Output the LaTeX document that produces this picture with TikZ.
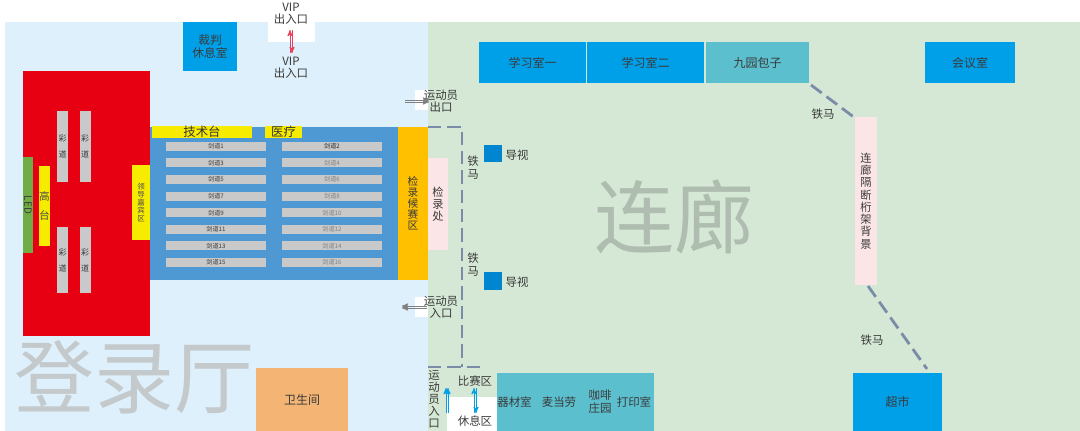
\documentclass[tikz,border=0pt]{standalone}
\usepackage{fontspec}
\setmainfont{Noto Sans CJK SC}
\usetikzlibrary{arrows,calc,positioning}
\definecolor{hallblue}{HTML}{DEF0FB}
\definecolor{corridor}{HTML}{D5E8D5}
\definecolor{roomblue}{HTML}{00A0E9}
\definecolor{roomteal}{HTML}{5BBFCE}
\definecolor{stagered}{HTML}{E60012}
\definecolor{pisteblue}{HTML}{4E98D3}
\definecolor{signyellow}{HTML}{F7EC00}
\definecolor{checkorange}{HTML}{FFC000}
\definecolor{panelpink}{HTML}{FBE5E6}
\definecolor{lanegray}{HTML}{C9C9C9}
\definecolor{barrier}{HTML}{7B8CA8}
\definecolor{inkgray}{HTML}{3A3A3A}
\definecolor{ledgreen}{HTML}{70AD47}
\definecolor{toiletorange}{HTML}{F4B574}
\definecolor{screenblue}{HTML}{0086D1}
\definecolor{hallmark}{HTML}{C4C9CC}
\definecolor{gallerymark}{HTML}{AFBDB0}
\definecolor{vipred}{HTML}{E8405A}
\newcommand{\sz}[2]{\fontsize{#1}{#2}\selectfont}
\tikzset{
	box/.style 2 args={draw=none,inner sep=0pt,minimum width=#1*0.75pt,minimum height=#2*0.75pt,text=inkgray,align=center},
	label/.style={inner sep=0pt,text=inkgray,align=center,font=\sz{8.6}{9}},
	watermark/.style={inner sep=0pt,font=\sz{60}{60}},
	rail/.style={barrier,line width=2.1pt,dash pattern=on 10pt off 4.5pt},
	flow/.style={line width=0.7pt,>=stealth',->},
}
\begin{document}
\begin{tikzpicture}[x=0.75pt,y=-0.75pt]
	\useasboundingbox (0,0) rectangle (1080,431);
	% halls
	\node[box={423}{409},fill=hallblue] (hall) at (216.5,226.5) {};
	\node[box={652}{409},fill=corridor] (gallery) at (754,226.5) {};
	\node[watermark,text=hallmark] (hallname) at (134,377) {登录厅};
	\node[watermark,text=gallerymark] (galleryname) at (674,217) {连廊};
	% stage
	\node[box={127}{265},fill=stagered] (stage) at (86.5,203.5) {};
	\node[box={10}{96},fill=ledgreen,font=\sz{7.5}{8}] (led) at (28,205) {\rotatebox{-90}{LED}};
	\node[box={10}{80},fill=signyellow,font=\sz{8}{14},text=black!70] (podium) at (44.5,206) {高\\台};
	\node[box={11}{71},fill=lanegray,font=\sz{6}{12}] (ribbon1) at (62.5,146.5) {彩\\道};
	\node[box={11}{71},fill=lanegray,font=\sz{6}{12}] (ribbon2) at (85,146.5) {彩\\道};
	\node[box={11}{66},fill=lanegray,font=\sz{6}{12}] (ribbon3) at (62.5,260) {彩\\道};
	\node[box={11}{66},fill=lanegray,font=\sz{6}{12}] (ribbon4) at (85,260) {彩\\道};
	\node[box={18}{75},fill=signyellow,font=\sz{5.6}{6},text=black!70] (guests) at (141,202.5) {领\\导\\嘉\\宾\\区};
	% pistes
	\node[box={248}{153},fill=pisteblue] (field) at (274,203.5) {};
	\node[box={100}{10},fill=signyellow,font=\sz{9.3}{10},text=black!80] (techdesk) at (202,132) {技术台};
	\node[box={37}{10},fill=signyellow,font=\sz{9.3}{10},text=black!80] (medical) at (283.5,132) {医疗};
	\foreach \i in {0,...,7} {
		\pgfmathtruncatemacro{\odd}{2*\i+1}
		\pgfmathtruncatemacro{\even}{2*\i+2}
		\pgfmathtruncatemacro{\shade}{\i==0?85:50}
		\pgfmathsetmacro{\laney}{146.3+16.6*\i}
		\node[box={100}{9},fill=lanegray,font=\sz{4.6}{5}] (piste\odd) at (216,\laney) {剑道\odd};
		\node[box={100}{9},fill=lanegray,font=\sz{4.6}{5},text=black!\shade] (piste\even) at (332,\laney) {剑道\even};
	}
	% check-in
	\node[box={30}{153},fill=checkorange,font=\sz{8}{8.3}] (waiting) at (413,203.5) {检\\录\\候\\赛\\区};
	\node[box={20}{92},fill=panelpink,font=\sz{8.4}{8.8}] (checkin) at (438,204) {检\\录\\处};
	% rooms
	\node[box={54}{49},fill=roomblue,font=\sz{8.8}{9.8}] (referee) at (210,46.5) {裁判\\休息室};
	\node[box={107}{41},fill=roomblue,font=\sz{9}{9}] (study1) at (532.5,62.5) {学习室一};
	\node[box={117}{41},fill=roomblue,font=\sz{9}{9}] (study2) at (645.5,62.5) {学习室二};
	\node[box={103}{41},fill=roomteal,font=\sz{9}{9}] (baozi) at (757.5,62.5) {九园包子};
	\node[box={90}{41},fill=roomblue,font=\sz{9}{9}] (meeting) at (970,62.5) {会议室};
	\node[box={89}{58},fill=roomblue,font=\sz{9}{9}] (market) at (897.5,402) {超市};
	\node[box={92}{63},fill=toiletorange,font=\sz{9}{9}] (toilet) at (302,399.5) {卫生间};
	\node[box={22}{168},fill=panelpink,font=\sz{8.4}{9.2}] (backdrop) at (866,201) {连\\廊\\隔\\断\\桁\\架\\背\\景};
	\node[box={51}{34},fill=white] (rest) at (472.5,414) {};
	\node[box={35}{58},fill=roomteal,font=\sz{8.6}{9}] (gear) at (514.5,402) {器材室};
	\node[box={54}{58},fill=roomteal,font=\sz{8.6}{9}] (mcd) at (559,402) {麦当劳};
	\node[box={28}{58},fill=roomteal,font=\sz{8.6}{9.8}] (cafe) at (600,402) {咖啡\\庄园};
	\node[box={40}{58},fill=roomteal,font=\sz{8.6}{9}] (print) at (634,402) {打印室};
	% doors
	\node[box={47}{42},fill=white] (vipdoor) at (291.5,21) {};
	\node[box={13}{20},fill=white] (outdoor) at (421.5,100) {};
	\node[box={13}{20},fill=white] (indoor) at (421.5,307) {};
	\node[label] (viptop) at (291,14) {VIP\\出入口};
	\node[label] (vipbottom) at (291,68) {VIP\\出入口};
	\node[label] (outname) at (441,101) {运动员\\出口};
	\node[label] (inname) at (441,307) {运动员\\入口};
	\node[label] (sidein) at (434,399) {运\\动\\员\\入\\口};
	\node[label] (playzone) at (475,381) {比赛区};
	\node[label] (restzone) at (475,421) {休息区};
	% guides
	\node[box={18}{17},fill=screenblue] (screen1) at (493,153.5) {};
	\node[box={18}{18},fill=screenblue] (screen2) at (493,281) {};
	\node[label] (screentext1) at (517,155) {导视};
	\node[label] (screentext2) at (517,282) {导视};
	\node[label,font=\sz{8.6}{9.8}] (railtext1) at (473,168) {铁\\马};
	\node[label,font=\sz{8.6}{9.8}] (railtext2) at (473,265) {铁\\马};
	\node[label] (railtext3) at (823,114) {铁马};
	\node[label] (railtext4) at (872,340) {铁马};
	% barriers
	\coordinate (railstart) at (428,127);
	\coordinate (railcorner) at (462,127);
	\coordinate (railend) at (462,367);
	\coordinate (lowstart) at (428,367);
	\coordinate (lowend) at (483,367);
	\coordinate (diagA) at (811,85);
	\coordinate (diagB) at (855,118);
	\coordinate (diagC) at (868,286);
	\coordinate (diagD) at (927,369);
	\draw[rail] (railstart) -- (railcorner) -- (railend);
	\draw[rail] (lowstart) -- (lowend);
	\draw[rail] (diagA) -- (diagB);
	\draw[rail] (diagC) -- (diagD);
	% arrows
	\coordinate (vipA) at (290,30);
	\coordinate (vipB) at (290,53);
	\coordinate (vipC) at (292,30);
	\coordinate (vipD) at (292,53);
	\draw[flow,vipred] (vipB) -- (vipA);
	\draw[flow,vipred] (vipC) -- (vipD);
	\coordinate (outA) at (405,100);
	\coordinate (outB) at (429,100);
	\coordinate (outC) at (405,102);
	\coordinate (outD) at (429,102);
	\draw[flow,black!50] (outA) -- (outB);
	\draw[flow,black!50] (outC) -- (outD);
	\coordinate (inA) at (427,306);
	\coordinate (inB) at (402,306);
	\coordinate (inC) at (427,308);
	\coordinate (inD) at (402,308);
	\draw[flow,black!50] (inA) -- (inB);
	\draw[flow,black!50] (inC) -- (inD);
	\coordinate (upA) at (446,413);
	\coordinate (upB) at (446,388);
	\coordinate (upC) at (448,413);
	\coordinate (upD) at (448,388);
	\draw[flow,roomblue] (upA) -- (upB);
	\draw[flow,roomblue] (upC) -- (upD);
	\coordinate (swapA) at (474,413);
	\coordinate (swapB) at (474,388);
	\coordinate (swapC) at (476,388);
	\coordinate (swapD) at (476,413);
	\draw[flow,roomblue] (swapA) -- (swapB);
	\draw[flow,roomblue] (swapC) -- (swapD);
\end{tikzpicture}
\end{document}
